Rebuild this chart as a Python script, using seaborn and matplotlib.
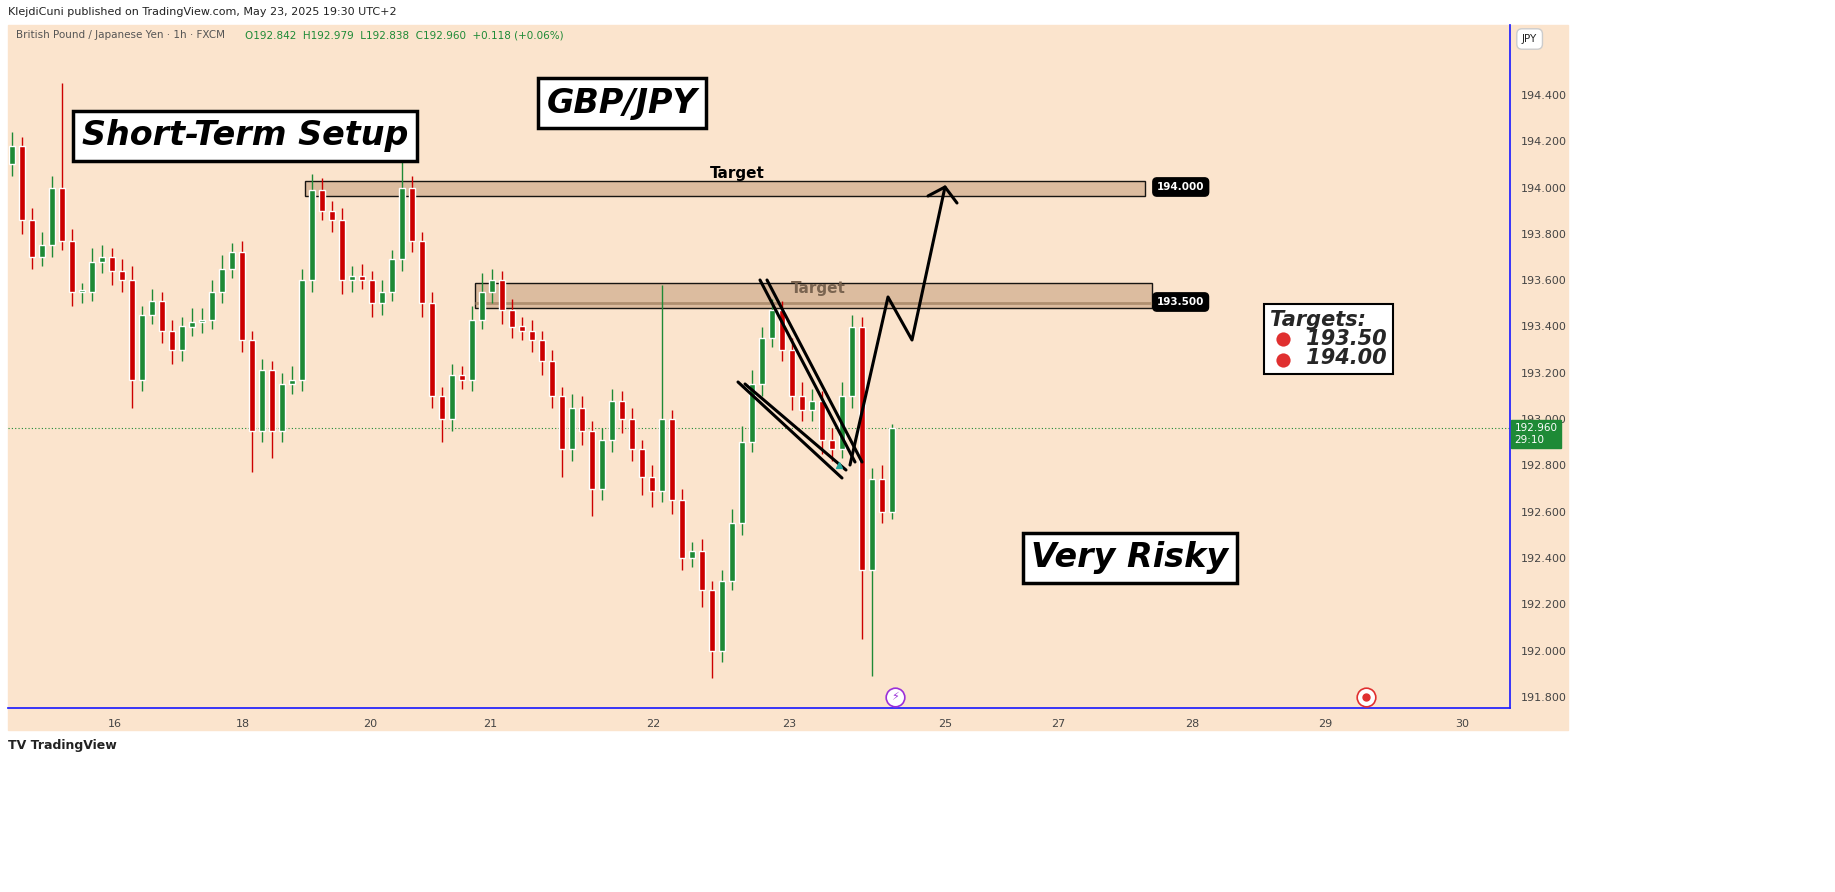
import matplotlib
matplotlib.use("Agg")
import matplotlib.pyplot as plt
import matplotlib.patches as mpatches
import numpy as np
import pandas as pd
import seaborn as sns

sns.set_theme(style="white")

# hourly closes (one every ~10 px)
closes = [194.18, 193.86, 193.70, 193.75, 194.00, 193.77, 193.55, 193.55, 193.68, 193.70,
          193.64, 193.60, 193.17, 193.45, 193.51, 193.38, 193.30, 193.40, 193.42, 193.43,
          193.55, 193.65, 193.72, 193.34, 192.95, 193.21, 192.95, 193.15, 193.17, 193.60,
          193.99, 193.90, 193.86, 193.60, 193.62, 193.60, 193.50, 193.55, 193.69, 194.00,
          193.77, 193.50, 193.10, 193.00, 193.19, 193.17, 193.43, 193.55, 193.60, 193.47,
          193.40, 193.38, 193.34, 193.25, 193.10, 192.87, 193.05, 192.95, 192.70, 192.91,
          193.08, 193.00, 192.87, 192.75, 192.69, 193.00, 192.65, 192.40, 192.43, 192.26,
          192.00, 192.30, 192.55, 192.90, 193.15, 193.35, 193.47, 193.30, 193.10, 193.04,
          193.08, 192.91, 192.87, 193.10, 193.40, 192.35, 192.74, 192.60, 192.96]
opens = [194.10] + closes[:-1]
upper_wick = [0.06, 0.04, 0.05, 0.06, 0.05, 0.45, 0.05, 0.04, 0.06, 0.05,
              0.04, 0.05, 0.06, 0.04, 0.05, 0.04, 0.05, 0.04, 0.06, 0.05,
              0.05, 0.06, 0.04, 0.05, 0.04, 0.05, 0.04, 0.05, 0.06, 0.05,
              0.07, 0.05, 0.04, 0.05, 0.04, 0.05, 0.04, 0.05, 0.04, 0.20,
              0.05, 0.04, 0.05, 0.04, 0.05, 0.04, 0.06, 0.08, 0.05, 0.04,
              0.05, 0.04, 0.05, 0.04, 0.05, 0.04, 0.06, 0.05, 0.04, 0.05,
              0.05, 0.04, 0.05, 0.04, 0.05, 0.58, 0.04, 0.05, 0.04, 0.05,
              0.04, 0.05, 0.06, 0.07, 0.06, 0.05, 0.05, 0.04, 0.05, 0.06,
              0.05, 0.04, 0.05, 0.06, 0.05, 0.04, 0.05, 0.06, 0.02]
lower_wick = [0.05, 0.06, 0.05, 0.04, 0.05, 0.04, 0.06, 0.05, 0.04, 0.05,
              0.06, 0.05, 0.12, 0.05, 0.04, 0.05, 0.06, 0.05, 0.04, 0.05,
              0.04, 0.05, 0.04, 0.05, 0.18, 0.05, 0.12, 0.05, 0.04, 0.05,
              0.05, 0.04, 0.05, 0.06, 0.05, 0.04, 0.06, 0.05, 0.04, 0.05,
              0.05, 0.06, 0.05, 0.10, 0.05, 0.04, 0.05, 0.04, 0.05, 0.06,
              0.05, 0.04, 0.05, 0.06, 0.05, 0.12, 0.05, 0.06, 0.12, 0.05,
              0.05, 0.06, 0.05, 0.08, 0.07, 0.05, 0.06, 0.05, 0.04, 0.07,
              0.12, 0.05, 0.04, 0.05, 0.04, 0.05, 0.04, 0.05, 0.06, 0.05,
              0.05, 0.06, 0.05, 0.04, 0.05, 0.30, 0.46, 0.05, 0.03]

date_ticks = [10.3, 23.1, 35.8, 47.8, 64.1, 77.7, 93.3, 104.6, 118.0, 131.3, 145.0]
date_labels = ["16", "18", "20", "21", "22", "23", "25", "27", "28", "29", "30"]
price_ticks = [191.8, 192.0, 192.2, 192.4, 192.6, 192.8, 193.0, 193.2, 193.4, 193.6, 193.8, 194.0, 194.2, 194.4]

BG = "#fbe4cd"
GREEN = "#1e8a36"
RED = "#cc0000"

df = pd.DataFrame({"i": np.arange(len(closes)), "open": opens, "close": closes})
df["high"] = df[["open", "close"]].max(axis=1) + upper_wick
df["low"] = df[["open", "close"]].min(axis=1) - lower_wick
df["up"] = df["close"] >= df["open"]

W, H = 1835, 892
fig = plt.figure(figsize=(W / 100, H / 100), dpi=100, facecolor="white")
fig.patches.append(mpatches.Rectangle((8 / W, 1 - 730 / H), 1560 / W, 705 / H,
                                      transform=fig.transFigure, color=BG, zorder=-5))
ax = fig.add_axes([8 / W, 1 - 708 / H, 1502 / W, 683 / H])
ax.set_facecolor(BG)


def px(x):
    return (x - 12) / 10


def py(y):
    return 194.4 - (y - 95) / 231.5


# wicks and bodies
for up, sub in df.groupby("up"):
    c = GREEN if up else RED
    ax.vlines(sub["i"], sub["low"], sub["high"], color=c, lw=1, zorder=3)
    ax.bar(sub["i"], (sub["close"] - sub["open"]).abs().clip(lower=0.008),
           bottom=sub[["open", "close"]].min(axis=1), width=0.55, color=c, zorder=4)

ax.set_xlim(-0.4, 149.8)
ax.set_ylim(py(708), py(25))
ax.yaxis.tick_right()
ax.set_yticks(price_ticks)
ax.set_yticklabels([f"{p:.3f}" for p in price_ticks], fontsize=8, color="#444444")
ax.set_xticks(date_ticks)
ax.set_xticklabels(date_labels, fontsize=8, color="#444444")
ax.tick_params(length=0, pad=8)
for s in ["top", "left"]:
    ax.spines[s].set_visible(False)
ax.spines["right"].set_color("#2020ff")
ax.spines["bottom"].set_color("#2020ff")

# zones
ax.add_patch(mpatches.Rectangle((px(305), py(196)), px(1145) - px(305), py(181) - py(196),
                                facecolor="#d9b89a", edgecolor="black", lw=1, zorder=2, alpha=0.9))
ax.add_patch(mpatches.Rectangle((px(475), py(308)), px(1152) - px(475), py(283) - py(308),
                                facecolor="#d9b89a", edgecolor="black", lw=1, zorder=2, alpha=0.9))
ax.hlines(py(303), px(475), px(1152), color="#b09070", lw=2, zorder=2)
ax.text(px(737), py(174), "Target", ha="center", va="center", fontsize=11, fontweight="bold", color="black")
ax.text(px(818), py(289), "Target", ha="center", va="center", fontsize=11, fontweight="bold", color="#7a6450", zorder=6)
for lab, y in [("194.000", 187), ("193.500", 302)]:
    ax.text(px(1157), py(y), lab, ha="left", va="center", fontsize=7.5, fontweight="bold", color="white",
            bbox=dict(boxstyle="round,pad=0.4", fc="black", ec="black"))

# current price line
ax.axhline(192.96, color=GREEN, ls=(0, (1, 2)), lw=0.8, zorder=1)
ax.text(1.003, py(434), "192.960\n29:10", transform=ax.get_yaxis_transform(), ha="left", va="center",
        fontsize=7.5, color="white", zorder=8,
        bbox=dict(boxstyle="square,pad=0.3", fc=GREEN, ec=GREEN), clip_on=False)

# wedge lines and projected path
for (x0, y0, x1, y1) in [(738, 382, 842, 478), (745, 384, 846, 470),
                         (760, 280, 855, 462), (767, 280, 862, 462)]:
    ax.plot([px(x0), px(x1)], [py(y0), py(y1)], color="black", lw=2.2, zorder=5, solid_capstyle="round")
path_x = [850, 888, 912, 945]
path_y = [465, 297, 340, 187]
ax.plot([px(v) for v in path_x], [py(v) for v in path_y], color="black", lw=2.2, zorder=5)
ax.plot([px(928), px(945), px(957)], [py(196), py(187), py(203)], color="black", lw=2.2, zorder=5)
ax.scatter([px(839)], [py(465)], marker="^", s=18, color="#26a69a", zorder=6)

# labels
boxes = [("GBP/JPY", 622, 103, 24), ("Short-Term Setup", 245, 136, 24), ("Very Risky", 1130, 558, 24)]
for txt, x, y, fs in boxes:
    ax.text(px(x), py(y), txt, ha="center", va="center", fontsize=fs, fontweight="bold", style="italic",
            color="black", zorder=7, bbox=dict(boxstyle="square,pad=0.25", fc="white", ec="black", lw=2.5))
ax.text(px(1270), py(339), "Targets:\n     193.50\n     194.00", ha="left", va="center", fontsize=15,
        fontweight="bold", style="italic", linespacing=0.95, zorder=7,
        bbox=dict(boxstyle="square,pad=0.3", fc="white", ec="black", lw=1.5))
for y in [339, 360]:
    ax.scatter([px(1283)], [py(y)], s=150, color="#e03030", edgecolor="white", lw=2, zorder=8)
    ax.scatter([px(1283)], [py(y)], s=20, color="#e03030", zorder=9)

# event markers
ax.scatter([px(895)], [py(697)], s=180, facecolor="white", edgecolor="#9b30d9", lw=1.2, zorder=6, clip_on=False)
ax.text(px(895), py(697), "⚡", ha="center", va="center", fontsize=8, color="#9b30d9", zorder=7)
ax.scatter([px(1366)], [py(697)], s=180, facecolor="white", edgecolor="#e03030", lw=1.2, zorder=6, clip_on=False)
ax.scatter([px(1366)], [py(697)], s=25, color="#e03030", zorder=7, clip_on=False)

# header / footer
fig.text(8 / W, 1 - 12 / H, "KlejdiCuni published on TradingView.com, May 23, 2025 19:30 UTC+2",
         fontsize=8, va="center", color="#222222")
fig.text(16 / W, 1 - 35 / H, "British Pound / Japanese Yen · 1h · FXCM", fontsize=7.5, va="center", color="#555555")
fig.text(245 / W, 1 - 35 / H, "O192.842  H192.979  L192.838  C192.960  +0.118 (+0.06%)",
         fontsize=7.5, va="center", color=GREEN)
fig.text(1522 / W, 1 - 39 / H, "JPY", fontsize=7.5, va="center", color="#222222",
         bbox=dict(boxstyle="round,pad=0.5", fc="white", ec="#cccccc"))
fig.text(8 / W, 1 - 746 / H, "TV TradingView", fontsize=9, fontweight="bold", va="center", color="#222222")

fig.savefig("out.png", dpi=100, facecolor="white")
